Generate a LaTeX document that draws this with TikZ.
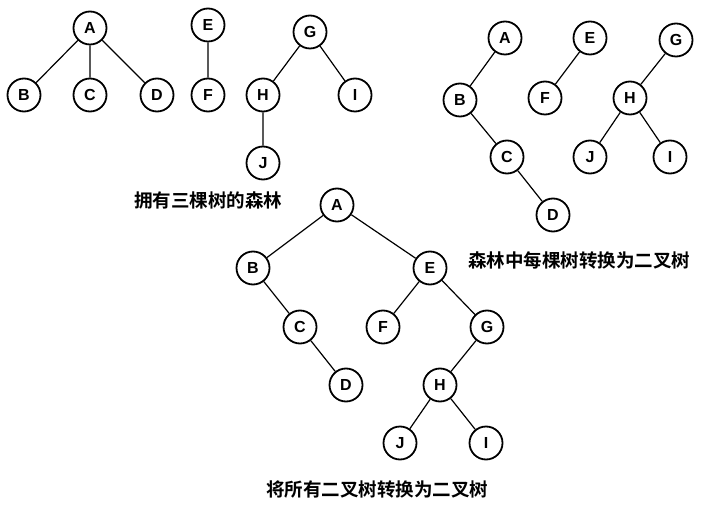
\documentclass[tikz,border=0pt]{standalone}
\usepackage{fontspec}
\setmainfont{Liberation Sans}
\newfontfamily\cjk{Noto Sans CJK SC}[BoldFont={Noto Sans CJK SC Bold}]
\begin{document}
\begin{tikzpicture}[x=1pt,y=-1pt,
  nd/.style={circle,draw,line width=1.8pt,minimum size=33pt,inner sep=0pt,font=\fontsize{16}{16}\selectfont\bfseries,fill=white},
  ed/.style={line width=1.2pt},
  lb/.style={font=\cjk\bfseries\fontsize{18.5}{18.5}\selectfont}]
\useasboundingbox (0,0) rectangle (708,510);
% tree set 1
\node[nd] (a1) at (90,28) {A};
\node[nd] (b1) at (24,95) {B};
\node[nd] (c1) at (90,95) {C};
\node[nd] (d1) at (157,95) {D};
\node[nd] (e1) at (208,25) {E};
\node[nd] (f1) at (208,95) {F};
\node[nd] (g1) at (310,32) {G};
\node[nd] (h1) at (263,95) {H};
\node[nd] (i1) at (355,95) {I};
\node[nd] (j1) at (263,163) {J};
\draw[ed] (a1)--(b1) (a1)--(c1) (a1)--(d1) (e1)--(f1) (g1)--(h1) (g1)--(i1) (h1)--(j1);
\node[lb] (l1) at (208,200) {拥有三棵树的森林};
% set 2
\node[nd] (a2) at (505,38) {A};
\node[nd] (b2) at (460,100) {B};
\node[nd] (c2) at (507,157) {C};
\node[nd] (d2) at (553,215) {D};
\node[nd] (e2) at (590,38) {E};
\node[nd] (f2) at (545,98) {F};
\node[nd] (g2) at (676,40) {G};
\node[nd] (h2) at (630,98) {H};
\node[nd] (j2) at (590,157) {J};
\node[nd] (i2) at (670,157) {I};
\draw[ed] (a2)--(b2) (b2)--(c2) (c2)--(d2) (e2)--(f2) (g2)--(h2) (h2)--(j2) (h2)--(i2);
\node[lb] (l2) at (579,260) {森林中每棵树转换为二叉树};
% set 3
\node[nd] (a3) at (337,205) {A};
\node[nd] (b3) at (253,268) {B};
\node[nd] (e3) at (430,268) {E};
\node[nd] (c3) at (300,327) {C};
\node[nd] (d3) at (346,385) {D};
\node[nd] (f3) at (383,327) {F};
\node[nd] (g3) at (487,327) {G};
\node[nd] (h3) at (440,385) {H};
\node[nd] (j3) at (400,443) {J};
\node[nd] (i3) at (486,443) {I};
\draw[ed] (a3)--(b3) (a3)--(e3) (b3)--(c3) (c3)--(d3) (e3)--(f3) (e3)--(g3) (g3)--(h3) (h3)--(j3) (h3)--(i3);
\node[lb] (l3) at (377,490) {将所有二叉树转换为二叉树};
\end{tikzpicture}
\end{document}
